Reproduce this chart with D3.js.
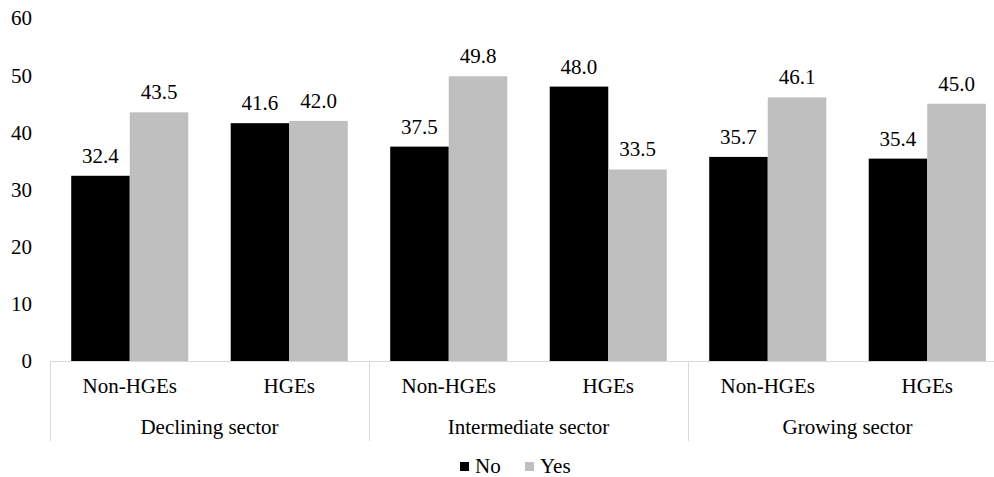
<!DOCTYPE html>
<html>
<head>
<meta charset="utf-8">
<script src="https://cdn.jsdelivr.net/npm/d3@7"></script>
<style>
  body { margin: 0; background: #fff; }
  svg { display: block; font-family: "Liberation Serif", "DejaVu Serif", serif; }
</style>
</head>
<body>
<svg id="chart"></svg>
<script>
    // data
    var sectors = ["Declining sector", "Intermediate sector", "Growing sector"];
    var firmTypes = ["Non-HGEs", "HGEs"];
    var seriesNames = ["No", "Yes"];
    var noValues = [32.4, 41.6, 37.5, 48.0, 35.7, 35.4];
    var yesValues = [43.5, 42.0, 49.8, 33.5, 46.1, 45.0];
    var yTicks = [0, 10, 20, 30, 40, 50, 60];

    var color = d3.scaleOrdinal().domain(seriesNames).range(["#000000", "#bfbfbf"]);

    var width = 994, height = 477;
    var x0 = 50, x1 = 1007;   // plot runs past the right edge, like the original
    var yBottom = 361, yTop = 18;
    var fontSize = 21;

    var svg = d3.select("#chart").attr("width", width).attr("height", height);

    // one slot per sector/firm type pair
    var cats = [];
    sectors.forEach(function (s, i) {
        firmTypes.forEach(function (f, j) {
            cats.push({ sector: s, firm: f, key: s + "|" + f, idx: i * 2 + j });
        });
    });

    var xScale = d3.scaleBand()
        .domain(cats.map(function (d) { return d.key; }))
        .range([x0, x1])
        .paddingInner(0.266)
        .paddingOuter(0.133);

    var xSeries = d3.scaleBand().domain(seriesNames).range([0, xScale.bandwidth()]);

    var yScale = d3.scaleLinear().domain([0, 60]).range([yBottom, yTop]);

    // y tick labels (no gridlines in the original)
    svg.append("g")
        .selectAll("text")
        .data(yTicks)
        .enter().append("text")
        .attr("x", 32)
        .attr("y", function (d) { return yScale(d); })
        .attr("dy", "0.35em")
        .attr("text-anchor", "end")
        .attr("font-size", fontSize)
        .attr("fill", "#000")
        .text(function (d) { return d; });

    // bars
    var barData = [];
    cats.forEach(function (c) {
        barData.push({ cat: c.key, series: "No", value: noValues[c.idx] });
        barData.push({ cat: c.key, series: "Yes", value: yesValues[c.idx] });
    });

    svg.append("g")
        .selectAll("rect")
        .data(barData)
        .enter().append("rect")
        .attr("x", function (d) { return xScale(d.cat) + xSeries(d.series); })
        .attr("y", function (d) { return yScale(d.value); })
        .attr("width", xSeries.bandwidth())
        .attr("height", function (d) { return yScale(0) - yScale(d.value); })
        .attr("fill", function (d) { return color(d.series); });

    // value labels
    svg.append("g")
        .selectAll("text")
        .data(barData)
        .enter().append("text")
        .attr("x", function (d) { return xScale(d.cat) + xSeries(d.series) + xSeries.bandwidth() / 2; })
        .attr("y", function (d) { return yScale(d.value) - 13; })
        .attr("text-anchor", "middle")
        .attr("font-size", fontSize)
        .attr("fill", "#000")
        .text(function (d) { return d.value.toFixed(1); });

    // category axis: baseline plus group separators
    var step = xScale.step();
    var outer = step * xScale.paddingOuter();
    var axisG = svg.append("g");
    axisG.append("line")
        .attr("x1", x0).attr("x2", x1)
        .attr("y1", yBottom + 0.5).attr("y2", yBottom + 0.5)
        .attr("stroke", "#d9d9d9").attr("stroke-width", 1);

    var seps = [0, 2, 4, 6].map(function (i) {
        return i < 6 ? xScale(cats[i].key) - outer : x1;
    });
    axisG.selectAll(".sep")
        .data(seps)
        .enter().append("line")
        .attr("class", "sep")
        .attr("x1", function (d) { return Math.round(d) + 0.5; })
        .attr("x2", function (d) { return Math.round(d) + 0.5; })
        .attr("y1", yBottom)
        .attr("y2", 441)
        .attr("stroke", "#d9d9d9").attr("stroke-width", 1);

    axisG.selectAll(".cat")
        .data(cats)
        .enter().append("text")
        .attr("x", function (d) { return xScale(d.key) + xScale.bandwidth() / 2; })
        .attr("y", 386)
        .attr("dy", "0.35em")
        .attr("text-anchor", "middle")
        .attr("font-size", fontSize)
        .text(function (d) { return d.firm; });

    axisG.selectAll(".sector")
        .data(sectors)
        .enter().append("text")
        .attr("x", function (d, i) { return (xScale(cats[i * 2].key) + xScale(cats[i * 2 + 1].key) + xScale.bandwidth()) / 2; })
        .attr("y", 427)
        .attr("dy", "0.35em")
        .attr("text-anchor", "middle")
        .attr("font-size", fontSize)
        .text(function (d) { return d; });

    // legend
    var legendX = [460, 525];
    var legend = svg.append("g");
    seriesNames.forEach(function (name, i) {
        legend.append("rect")
            .attr("x", legendX[i]).attr("y", 462)
            .attr("width", 9).attr("height", 9)
            .attr("fill", color(name));
        legend.append("text")
            .attr("x", legendX[i] + 15).attr("y", 466)
            .attr("dy", "0.35em")
            .attr("font-size", fontSize)
            .text(name);
    });
</script>
</body>
</html>
